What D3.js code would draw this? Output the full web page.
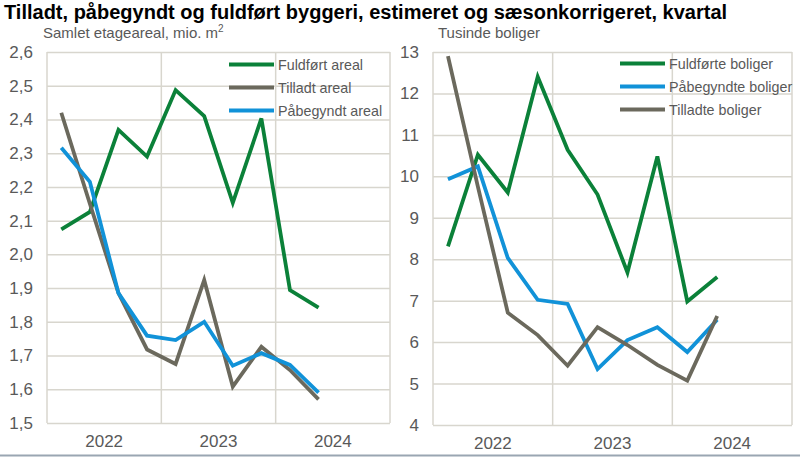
<!DOCTYPE html>
<html><head><meta charset="utf-8">
<script src="https://cdn.jsdelivr.net/npm/d3@7"></script>
<style>body{margin:0;background:#fff}svg{display:block}</style>
</head><body>
<script>
// ---- data ----
const slots = ["2022K1","2022K2","2022K3","2022K4","2023K1","2023K2","2023K3","2023K4","2024K1","2024K2","2024K3","2024K4"];
const quarters = ["2022K1","2022K2","2022K3","2022K4","2023K1","2023K2","2023K3","2023K4","2024K1","2024K2"];
const years = ["2022","2023","2024"];
const areaTicks = [1.5,1.6,1.7,1.8,1.9,2.0,2.1,2.2,2.3,2.4,2.5,2.6];
const unitTicks = [4,5,6,7,8,9,10,11,12,13];

const fuldfoertAreal  = [2.074,2.126,2.369,2.290,2.487,2.410,2.153,2.403,1.894,1.842];
const tilladtAreal    = [2.420,2.150,1.885,1.718,1.675,1.924,1.608,1.726,1.657,1.570];
const paabegyndtAreal = [2.316,2.215,1.885,1.759,1.746,1.800,1.670,1.707,1.672,1.590];

const fuldfoerteBoliger  = [8.31,10.52,9.61,12.40,10.64,9.56,7.68,10.48,6.98,7.57];
const paabegyndteBoliger = [9.93,10.24,8.03,7.02,6.92,5.35,6.05,6.36,5.76,6.54];
const tilladteBoliger    = [12.90,9.75,6.71,6.17,5.43,6.36,5.93,5.45,5.07,6.63];

const title = "Tilladt, påbegyndt og fuldført byggeri, estimeret og sæsonkorrigeret, kvartal";

// ---- styles ----
const C = {green:"#0b8139", gray:"#6b695d", blue:"#1192d8", grid:"#d8d6ce", text:"#595959"};
const FONT = "'Liberation Sans', Arial, sans-serif";
const NARROW = "'Liberation Sans Narrow', 'Arial Narrow', 'Liberation Sans', sans-serif";

const svg = d3.select("body").append("svg").attr("width",800).attr("height",458)
  .style("font-family",FONT);

svg.append("text").attr("x",4).attr("y",19).attr("font-size",20).attr("font-weight","bold")
  .attr("fill","#000").text(title);

svg.append("line").attr("x1",0).attr("x2",800).attr("y1",455.5).attr("y2",455.5)
  .attr("stroke","#9aa6b2").attr("stroke-width",2);

function panel(cfg){
  const g = svg.append("g");
  const x = d3.scaleBand().domain(slots).range([cfg.x0,cfg.x1]).padding(0);
  const xy = d3.scaleBand().domain(years).range([cfg.x0,cfg.x1]).padding(0);
  const y = d3.scaleLinear().domain(cfg.domain).range([cfg.y1,cfg.y0]);
  const w = cfg.x1-cfg.x0;

  // horizontal grid + tick labels
  const ax = d3.axisLeft(y).tickValues(cfg.ticks).tickSize(-w).tickPadding(14).tickFormat(cfg.fmt);
  const ag = g.append("g").attr("transform",`translate(${cfg.x0},0)`).call(ax);
  ag.select(".domain").remove();
  ag.selectAll("line").attr("stroke",C.grid).attr("stroke-width",1.5);
  ag.selectAll("text").attr("fill",C.text).attr("font-size",17).attr("font-family",NARROW);

  // vertical grid at year boundaries
  const bounds = years.map(d=>xy(d)).concat([cfg.x1]);
  g.selectAll(".vg").data(bounds).join("line")
    .attr("x1",d=>d).attr("x2",d=>d).attr("y1",cfg.y0).attr("y2",cfg.y1)
    .attr("stroke",C.grid).attr("stroke-width",1.5);

  // year labels
  const bx = d3.axisBottom(xy).tickSize(0).tickPadding(0);
  const bg = g.append("g").attr("transform",`translate(0,${cfg.y1})`).call(bx);
  bg.select(".domain").remove();
  bg.selectAll("text").attr("fill",C.text).attr("font-size",17).attr("font-family",NARROW)
    .attr("dy",null).attr("y",24);

  // subtitle
  const st = g.append("text").attr("x",cfg.subX).attr("y",38).attr("font-size",15).attr("fill",C.text);
  st.append("tspan").text(cfg.sub);
  if(cfg.sup) st.append("tspan").attr("font-size",10).attr("dy",-6).text(cfg.sup);

  // lines
  const line = d3.line().x((d,i)=>x(quarters[i])+x.bandwidth()/2).y(d=>y(d));
  cfg.series.forEach(s=>{
    g.append("path").datum(s.values).attr("d",line).attr("fill","none")
      .attr("stroke",s.color).attr("stroke-width",3.8).attr("stroke-linejoin","miter").attr("stroke-miterlimit",4);
  });

  // legend
  cfg.legend.forEach((s,i)=>{
    const cy = cfg.ly + i*23;
    g.append("line").attr("x1",cfg.lx).attr("x2",cfg.lx+45).attr("y1",cy).attr("y2",cy)
      .attr("stroke",s.color).attr("stroke-width",3.8);
    g.append("text").attr("x",cfg.lx+49).attr("y",cy+5).attr("font-size",14.3).attr("fill",C.text).text(s.name);
  });
}

const fmtArea = d=>d3.format(".1f")(d).replace(".",",");

panel({x0:47,x1:390,y0:52,y1:423,domain:[1.5,2.6],ticks:areaTicks,fmt:fmtArea,
  sub:"Samlet etageareal, mio. m",sup:"2",subX:43,
  series:[{values:fuldfoertAreal,color:C.green},{values:tilladtAreal,color:C.gray},{values:paabegyndtAreal,color:C.blue}],
  legend:[{name:"Fuldført areal",color:C.green},{name:"Tilladt areal",color:C.gray},{name:"Påbegyndt areal",color:C.blue}],
  lx:229,ly:64.5});

panel({x0:433,x1:792,y0:52,y1:425,domain:[4,13],ticks:unitTicks,fmt:d3.format("d"),
  sub:"Tusinde boliger",sup:null,subX:438,
  series:[{values:fuldfoerteBoliger,color:C.green},{values:paabegyndteBoliger,color:C.blue},{values:tilladteBoliger,color:C.gray}],
  legend:[{name:"Fuldførte boliger",color:C.green},{name:"Påbegyndte boliger",color:C.blue},{name:"Tilladte boliger",color:C.gray}],
  lx:620,ly:63.5});
</script>
</body></html>
